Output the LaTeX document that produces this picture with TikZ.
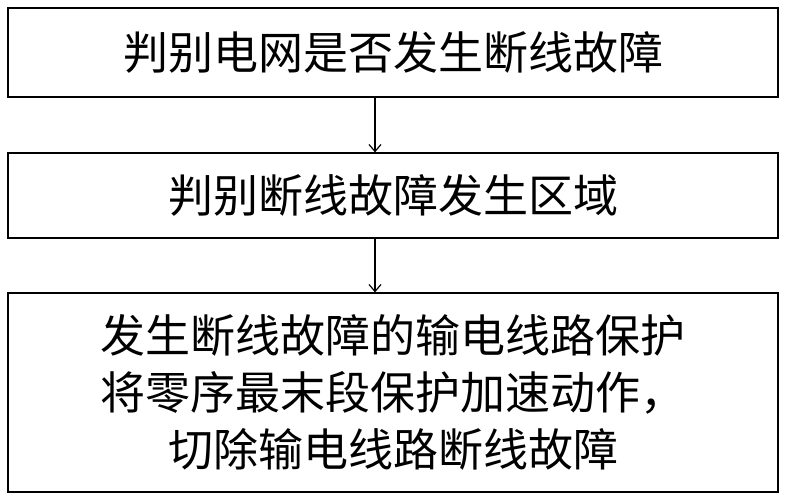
\documentclass[tikz,border=0pt]{standalone}
\usepackage{fontspec}
\newfontfamily\cjk{Noto Sans CJK SC}
\usetikzlibrary{arrows.meta}
\tikzset{
  stepbox/.style = {
    draw = black,
    line width = 1.2pt,
    inner sep = 0,
    font = \cjk\fontsize{45}{57}\selectfont,
    align = center
  },
  flow/.style = {
    draw = black,
    line width = 1.2pt,
    -{Straight Barb[length=7pt,width=12pt]}
  }
}
\begin{document}
\begin{tikzpicture}[x=1pt,y=-1pt]
    \useasboundingbox (0,0) rectangle (786,500);
    \node[stepbox, minimum width=770pt, minimum height=89pt] (detect) at (393,52.5) {判别电网是否发生断线故障};
    \node[stepbox, minimum width=770pt, minimum height=85pt] (locate) at (393,195.5) {判别断线故障发生区域};
    \node[stepbox, minimum width=770pt, minimum height=199pt] (trip) at (393,392.5) {发生断线故障的输电线路保护\\将零序最末段保护加速动作，\\切除输电线路断线故障};

    \draw[flow] (detect.south -| 375,0) -- (locate.north -| 375,0);
    \draw[flow] (locate.south -| 375,0) -- (trip.north -| 375,0);
\end{tikzpicture}
\end{document}
